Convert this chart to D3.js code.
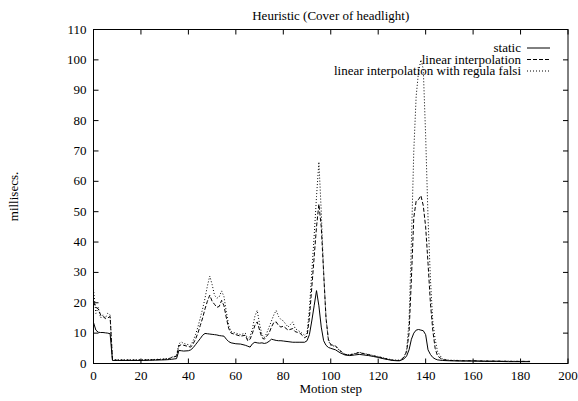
<!DOCTYPE html>
<html>
<head>
  <meta charset="UTF-8">
  <title>Heuristic (Cover of headlight)</title>
  <style>
    body { margin: 0; background: #fff; }
    svg text { font-family: "Liberation Serif", "Times New Roman", serif; font-size: 13px; fill: #000; }
  </style>
</head>
<body>
<svg></svg>
<script src="https://d3js.org/d3.v7.min.js"></script>
<script>

// motion steps at which values were read
let steps = [0,1,2,3,4,5,6,7,8,10,15,20,25,30,32,33,34,35,36,37,38,40,41,42,43,44,45,46,47,48,49,
  50,51,52,53,54,55,56,57,58,60,62,64,65,66,67,68,69,70,71,72,73,74,75,76,77,78,79,80,82,84,85,87,89,
  90,91,92,93,94,95,96,97,98,99,100,102,104,106,108,110,112,114,116,118,120,122,124,126,128,129,
  130,131,132,133,134,135,136,137,138,139,140,141,142,143,144,145,147,150,155,160,165,170,175,180,184];

let staticMs = [13.5,11,10.3,10.2,10.2,10.1,10,9.8,1.0,1.0,1.0,1.0,1.1,1.2,1.3,1.4,1.5,1.6,4.3,4.2,4.1,4.2,4.5,5.2,6.2,7.2,8.2,9.3,9.9,9.8,9.7,
  9.6,9.5,9.4,9.2,9.1,9.0,8.0,7.2,6.8,6.5,6.4,6.0,5.7,5.4,6.5,7.0,6.8,6.7,6.8,6.6,6.8,7.3,8.0,7.8,7.6,7.5,7.5,7.4,7.2,7.0,7.0,7.0,7.0,
  7.5,9.5,14,19,24,19,12,7.5,6.0,5.3,5.0,4.5,3.5,2.8,2.6,2.8,3.0,2.8,2.6,2.3,2.0,1.6,1.3,1.0,0.9,0.9,
  1.2,1.6,2.5,4.5,8.0,10.0,11.0,11.2,11.0,10.8,9.5,4.5,3.0,2.0,1.5,1.2,1.0,0.9,0.8,0.8,0.7,0.7,0.6,0.6,0.6];

let linearMs = [20.3,18.5,18.0,16.0,15.5,14.8,15.0,15.5,1.1,1.1,1.1,1.1,1.2,1.4,1.6,2.0,2.2,2.4,5.8,6.2,6.0,5.6,5.4,6.5,8.0,10.0,12.5,15.0,18.0,20.5,22.5,
  20.5,19.5,18.5,18.8,20.8,19.0,15.0,11.5,10.0,9.5,9.0,9.3,7.5,8.0,10.0,12.5,13.7,11.0,8.5,8.0,9.0,10.0,12.0,13.5,13.7,12.5,12.0,12.3,11.0,11.5,10.5,10.0,8.5,
  9.0,15,25,35,45,52.5,45,30,15,8,6.2,5.8,4.2,3.0,2.8,3.2,3.6,3.2,2.9,2.5,2.2,1.8,1.4,1.1,1.0,1.0,
  1.4,2.2,4.0,10,28,48,53.5,54,55.3,52,45,33,20,11,5,2.5,1.3,1.0,0.9,0.9,0.8,0.8,0.7,0.7,0.7];

let falsiMs = [24.5,16.5,18.5,15.0,16.0,15.0,16.5,16.0,1.2,1.2,1.2,1.2,1.3,1.5,1.7,2.1,2.3,2.5,6.5,7.1,6.6,6.2,6.0,7.5,9.5,12.0,15.0,18.0,21.5,25.5,28.8,
  26.0,22.5,21.5,22.0,23.9,22.0,17.0,12.5,10.5,10.0,9.5,10.0,8.0,9.0,11.5,15.5,17.5,13.0,9.5,8.5,10.0,12.0,14.0,16.0,17.5,15.5,14.5,14.0,12.0,13.7,11.5,10.5,9.3,
  10.0,18,30,42,55,66.4,50,30,15,7.5,6.0,5.6,4.0,3.0,2.9,3.3,3.7,3.3,3.0,2.6,2.3,1.9,1.5,1.2,1.1,1.1,
  1.5,2.4,4.5,14,40,70,88,96,100,97,75,48,28,14,8,4,1.5,1.1,1.0,0.9,0.9,0.8,0.8,0.7,0.7];

let seriesNames = ["static", "linear interpolation", "linear interpolation with regula falsi"];
let xTicks = [0,20,40,60,80,100,120,140,160,180,200];
let yTicks = [0,10,20,30,40,50,60,70,80,90,100,110];

let width = 578, height = 401;
let margin = {top: 29.5, right: 10, bottom: 37.5, left: 93.5};

let svg = d3.select("svg")
    .attr("width", width)
    .attr("height", height);

let x = d3.scaleLinear().domain([0, 200]).range([margin.left, width - margin.right]);
let y = d3.scaleLinear().domain([0, 110]).range([height - margin.bottom, margin.top]);

let dashes = ["none", "4,2", "1,2"];
let allSeries = [staticMs, linearMs, falsiMs];

// ticks, inward on all four sides (gnuplot style)
let tl = 5;
let axes = svg.append("g").attr("stroke", "#000").attr("stroke-width", 1);
xTicks.forEach(t => {
    axes.append("line").attr("x1", x(t)).attr("x2", x(t)).attr("y1", y(0)).attr("y2", y(0) - tl);
    axes.append("line").attr("x1", x(t)).attr("x2", x(t)).attr("y1", y(110)).attr("y2", y(110) + tl);
});
yTicks.forEach(t => {
    axes.append("line").attr("x1", x(0)).attr("x2", x(0) + tl).attr("y1", y(t)).attr("y2", y(t));
    axes.append("line").attr("x1", x(200)).attr("x2", x(200) - tl).attr("y1", y(t)).attr("y2", y(t));
});

svg.append("g").selectAll("text")
    .data(xTicks).enter().append("text")
    .attr("x", d => x(d))
    .attr("y", y(0) + 16)
    .attr("text-anchor", "middle")
    .text(d => d);

svg.append("g").selectAll("text")
    .data(yTicks).enter().append("text")
    .attr("x", x(0) - 7)
    .attr("y", d => y(d) + 4)
    .attr("text-anchor", "end")
    .text(d => d);

// lines
let line = d3.line()
    .x((d, i) => x(steps[i]))
    .y(d => y(d));

svg.append("g").selectAll("path")
    .data(allSeries).enter().append("path")
    .attr("d", d => line(d))
    .attr("fill", "none")
    .attr("stroke", "#000")
    .attr("stroke-width", 1)
    .attr("stroke-dasharray", (d, i) => dashes[i]);

// frame
svg.append("rect")
    .attr("x", x(0)).attr("y", y(110))
    .attr("width", x(200) - x(0)).attr("height", y(0) - y(110))
    .attr("fill", "none").attr("stroke", "#000").attr("stroke-width", 1);

// titles
svg.append("text")
    .attr("x", (x(0) + x(200)) / 2).attr("y", 20)
    .attr("text-anchor", "middle")
    .text("Heuristic (Cover of headlight)");

svg.append("text")
    .attr("x", (x(0) + x(200)) / 2).attr("y", 393)
    .attr("text-anchor", "middle")
    .text("Motion step");

svg.append("text")
    .attr("transform", "translate(18," + ((y(0) + y(110)) / 2) + ") rotate(-90)")
    .attr("text-anchor", "middle")
    .text("millisecs.");

// legend
let legend = svg.append("g").selectAll("g")
    .data(seriesNames).enter().append("g")
    .attr("transform", (d, i) => "translate(0," + (48 + i * 11.5) + ")");

legend.append("text")
    .attr("x", 521)
    .attr("y", 4)
    .attr("text-anchor", "end")
    .text(d => d);

legend.append("line")
    .attr("x1", 527).attr("x2", 550)
    .attr("y1", 0).attr("y2", 0)
    .attr("stroke", "#000")
    .attr("stroke-dasharray", (d, i) => dashes[i]);

</script>
</body>
</html>
